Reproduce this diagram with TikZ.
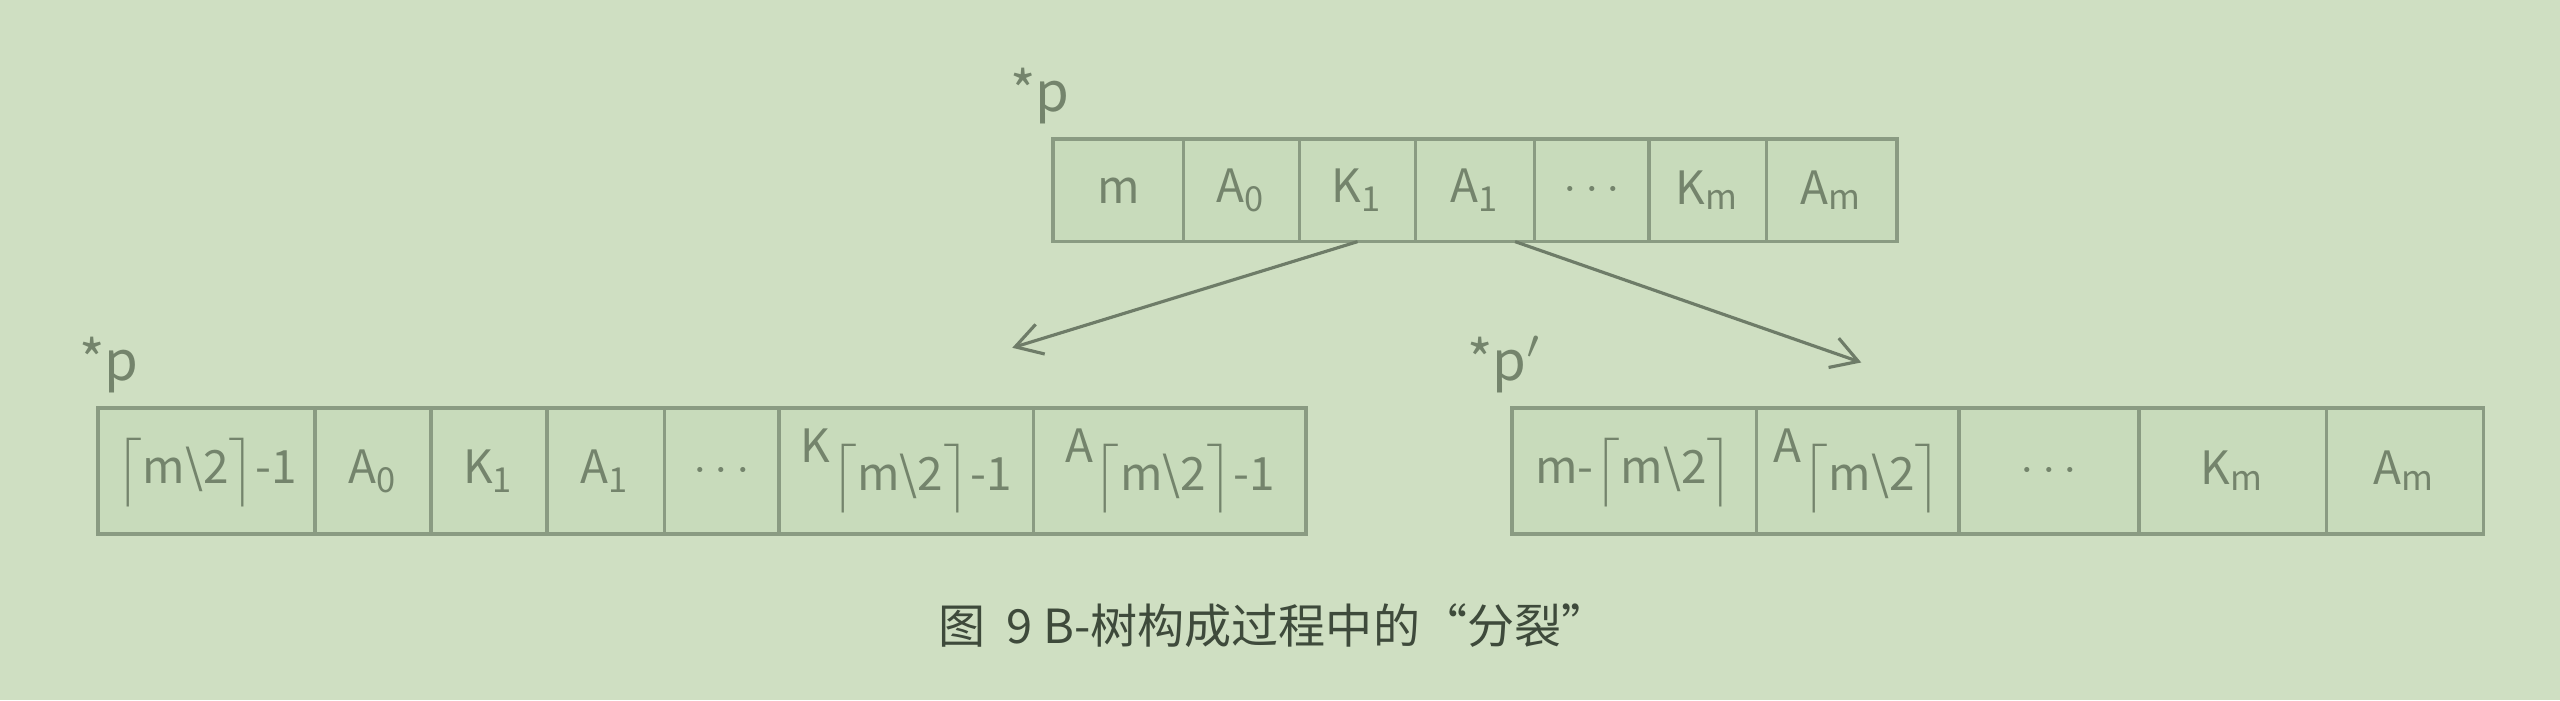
\documentclass[tikz,border=0pt]{standalone}
\usepackage{fontspec}
\setmainfont{Noto Sans CJK SC}
\newfontfamily\cjk{Noto Sans CJK SC}
\usetikzlibrary{positioning,arrows.meta}
\definecolor{bgc}{HTML}{CFDFC2}
\definecolor{cellc}{HTML}{C8DBBB}
\definecolor{linec}{HTML}{8A9B82}
\definecolor{txtc}{HTML}{74846C}
\definecolor{capc}{HTML}{3E4A3B}
\newcommand{\ceilhalf}{$\big\lceil$m\textbackslash2$\big\rceil$}
\newcommand{\lowsub}[1]{\raisebox{-1.1ex}{#1}}

\begin{document}
\begin{tikzpicture}[
	cell/.style={draw=linec,fill=cellc,line width=0.6pt,inner sep=0pt,outer sep=0pt,
		text=txtc,font=\fontsize{8}{9}\selectfont},
	lab/.style={anchor=base west,text=txtc,inner sep=0pt,font=\fontsize{9.5}{10}\selectfont},
	arr/.style={draw=linec!80!black,line width=0.55pt,-{Straight Barb[length=1.6mm,width=1.9mm]}}]
	\fill[bgc](0,0) rectangle (15.68,4.29);
	% parent node
	\node[cell,minimum height=0.63cm,minimum width=0.80cm](t1) at (6.85,3.125){m};
	\node[cell,minimum height=0.63cm,minimum width=0.71cm,right=0pt of t1](t2){A\textsubscript{0}};
	\node[cell,minimum height=0.63cm,minimum width=0.71cm,right=0pt of t2](t3){K\textsubscript{1}};
	\node[cell,minimum height=0.63cm,minimum width=0.73cm,right=0pt of t3](t4){A\textsubscript{1}};
	\node[cell,minimum height=0.63cm,minimum width=0.70cm,right=0pt of t4](t5){$\cdots$};
	\node[cell,minimum height=0.63cm,minimum width=0.72cm,right=0pt of t5](t6){K\textsubscript{m}};
	\node[cell,minimum height=0.63cm,minimum width=0.80cm,right=0pt of t6](t7){A\textsubscript{m}};
	\node[lab](ptop) at (6.18,3.61){*p};
	% left half
	\node[cell,minimum height=0.77cm,minimum width=1.33cm](l1) at (1.265,1.405){\ceilhalf-1};
	\node[cell,minimum height=0.77cm,minimum width=0.71cm,right=0pt of l1](l2){A\textsubscript{0}};
	\node[cell,minimum height=0.77cm,minimum width=0.71cm,right=0pt of l2](l3){K\textsubscript{1}};
	\node[cell,minimum height=0.77cm,minimum width=0.72cm,right=0pt of l3](l4){A\textsubscript{1}};
	\node[cell,minimum height=0.77cm,minimum width=0.70cm,right=0pt of l4](l5){$\cdots$};
	\node[cell,minimum height=0.77cm,minimum width=1.56cm,right=0pt of l5](l6){K\lowsub{\ceilhalf-1}};
	\node[cell,minimum height=0.77cm,minimum width=1.67cm,right=0pt of l6](l7){A\lowsub{\ceilhalf-1}};
	\node[lab](pleft) at (0.48,1.96){*p};
	% right half
	\node[cell,minimum height=0.77cm,minimum width=1.50cm](r1) at (10.01,1.405){m-\ceilhalf};
	\node[cell,minimum height=0.77cm,minimum width=1.24cm,right=0pt of r1](r2){A\lowsub{\ceilhalf}};
	\node[cell,minimum height=0.77cm,minimum width=1.10cm,right=0pt of r2](r3){$\cdots$};
	\node[cell,minimum height=0.77cm,minimum width=1.15cm,right=0pt of r3](r4){K\textsubscript{m}};
	\node[cell,minimum height=0.77cm,minimum width=0.96cm,right=0pt of r4](r5){A\textsubscript{m}};
	\node[lab](pright) at (8.98,1.96){*p$'$};
	% split arrows
	\coordinate (e1) at (6.20,2.16);
	\coordinate (e2) at (11.40,2.07);
	\draw[arr](t3.south) -- (e1);
	\draw[arr]([xshift=-1.2mm]t4.south east) -- (e2);
	\node[text=capc,font=\cjk\fontsize{8.2}{9}\selectfont](cap) at (7.80,0.46){图\ \ 9 B-树构成过程中的“分裂”};
\end{tikzpicture}
\end{document}
